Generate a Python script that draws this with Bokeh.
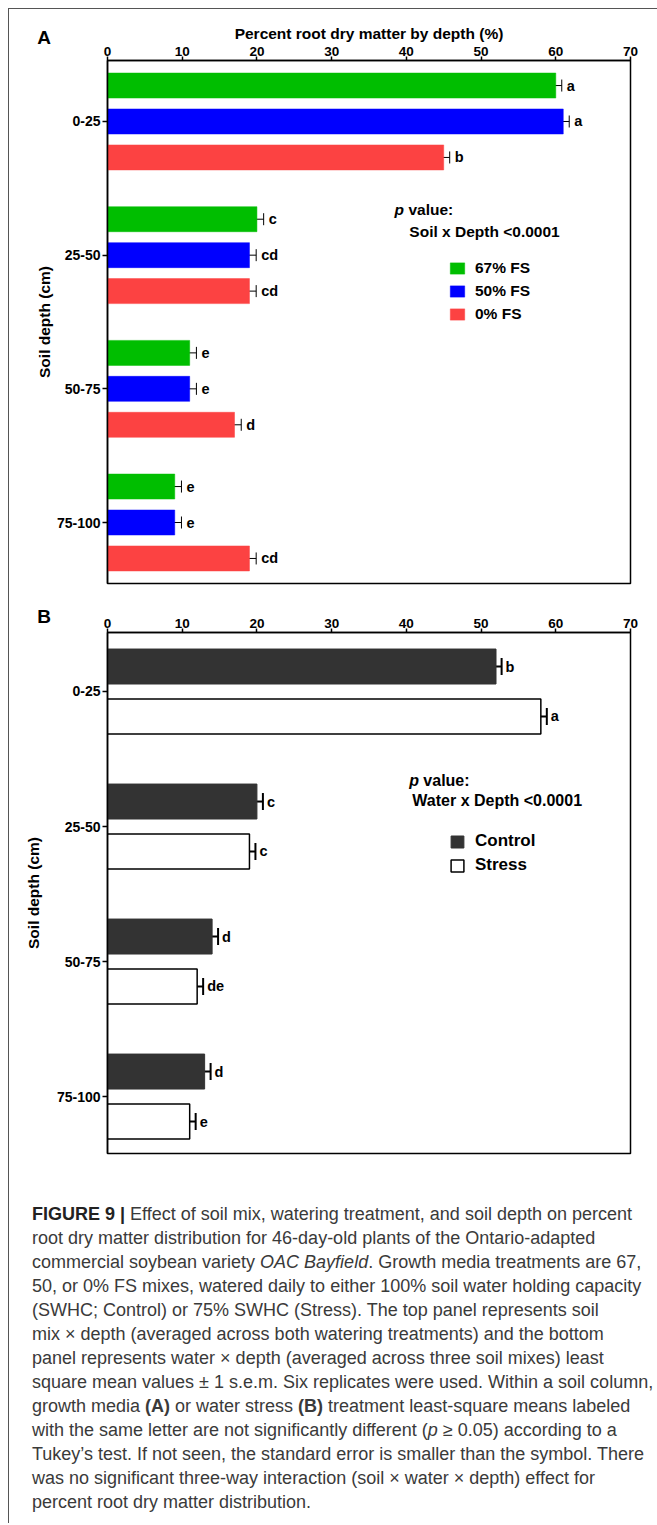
import numpy as np
from bokeh.plotting import figure
from bokeh.models import (Range1d, ColumnDataSource, Whisker, TeeHead, Label,
                          Legend, LegendItem, Div)
from bokeh.layouts import column
from bokeh.core.properties import value
from bokeh.embed import file_html
from bokeh.resources import INLINE

# ---------------- data ----------------
depths = ["0-25", "25-50", "50-75", "75-100"]
x_ticks = [0, 10, 20, 30, 40, 50, 60, 70]

# Panel A: soil mix x depth
fs67 = [60, 20, 11, 9]
fs67_se = [0.8, 0.9, 0.9, 0.9]
fs67_letters = ["a", "c", "e", "e"]
fs50 = [61, 19, 11, 9]
fs50_se = [0.8, 0.9, 0.9, 0.9]
fs50_letters = ["a", "cd", "e", "e"]
fs0 = [45, 19, 17, 19]
fs0_se = [0.8, 0.9, 0.9, 0.9]
fs0_letters = ["b", "cd", "d", "cd"]

# Panel B: water x depth
control = [52, 20, 14, 13]
control_se = [0.75, 0.8, 0.8, 0.8]
control_letters = ["b", "c", "d", "d"]
stress = [58, 19, 12, 11]
stress_se = [0.8, 0.8, 0.8, 0.8]
stress_letters = ["a", "c", "de", "e"]

FONT = "Liberation Sans"
W = 648


def make_panel(height, top, bottom, y_start, y_end, xlabel, ylab_standoff):
    p = figure(width=W, height=height, x_range=Range1d(0, 70),
               y_range=Range1d(y_start, y_end), x_axis_location="above",
               output_backend="svg", toolbar_location=None,
               min_border_left=98, min_border_right=W - 621,
               min_border_top=top, min_border_bottom=bottom)
    p.xgrid.visible = False
    p.ygrid.visible = False
    p.outline_line_color = "black"
    p.outline_line_width = 1.5
    p.outline_line_alpha = 1
    p.background_fill_color = "white"
    p.border_fill_color = "white"

    xa = p.xaxis[0]
    xa.ticker = x_ticks
    xa.axis_line_width = 1.5
    xa.major_tick_line_width = 1.5
    xa.major_tick_out = 4
    xa.major_tick_in = 0
    xa.minor_tick_out = 0
    xa.minor_tick_in = 0
    xa.major_label_standoff = 1
    xa.major_label_text_font = FONT
    xa.major_label_text_font_style = "bold"
    xa.major_label_text_font_size = "13.5px"
    xa.major_label_text_color = "black"
    if xlabel:
        xa.axis_label = xlabel
        xa.axis_label_text_font = FONT
        xa.axis_label_text_font_style = "bold"
        xa.axis_label_text_font_size = "15.5px"
        xa.axis_label_text_color = "black"
        xa.axis_label_standoff = 2

    ya = p.yaxis[0]
    ya.ticker = list(range(len(depths)))
    ya.major_label_overrides = {i: d for i, d in enumerate(depths)}
    ya.axis_line_width = 1.5
    ya.major_tick_line_width = 1.5
    ya.major_tick_out = 5
    ya.major_tick_in = 0
    ya.minor_tick_out = 0
    ya.minor_tick_in = 0
    ya.major_label_standoff = 2
    ya.major_label_text_font = FONT
    ya.major_label_text_font_style = "bold"
    ya.major_label_text_font_size = "14px"
    ya.major_label_text_color = "black"
    ya.axis_label = "Soil depth (cm)"
    ya.axis_label_text_font = FONT
    ya.axis_label_text_font_style = "bold"
    ya.axis_label_text_font_size = "15.5px"
    ya.axis_label_text_color = "black"
    ya.axis_label_standoff = ylab_standoff
    return p


def add_series(p, vals, se, letters, offset, bar_h, fill, line, line_w,
               cap, err_w, letter_size, letter_off):
    idx = np.arange(len(depths))
    v = np.array(vals, dtype=float)
    s = np.array(se, dtype=float)
    src = ColumnDataSource(dict(y=idx + offset, val=v, lo=v - s, hi=v + s,
                                lab=letters))
    r = p.hbar(y="y", left=0, right="val", height=bar_h, source=src,
               fill_color=fill, line_color=line, line_width=line_w)
    w = Whisker(source=src, base="y", lower="lo", upper="hi",
                dimension="width", line_color="black", line_width=err_w,
                upper_head=TeeHead(size=cap, line_color="black", line_width=err_w),
                lower_head=TeeHead(size=cap, line_color="black", line_width=err_w))
    p.add_layout(w)
    p.text(x="hi", y="y", text="lab", source=src, x_offset=letter_off,
           text_baseline="middle", text_align="left",
           text_font=value(FONT), text_font_style="bold",
           text_font_size=letter_size, text_color="black")
    return r


def txt(p, x, y, text, size, style="bold", x_offset=0):
    p.add_layout(Label(x=x, y=y, x_offset=x_offset, text=text, text_font=FONT,
                       text_font_style=style, text_font_size=size,
                       text_baseline="middle", text_color="black"))


def panel_tag(p, x, y, text):
    # drawn at overlay level so that it is not clipped to the plot frame
    p.text(x=[x], y=[y], text=[text], level="overlay", text_baseline="middle",
           text_align="left", text_font=value(FONT), text_font_style="bold",
           text_font_size="19px", text_color="black")


# ---------------- panel A ----------------
pA = make_panel(582, 51, 8, 3.4563, -0.4563,
                "Percent root dry matter by depth (%)", 1)
hA = 0.187
offA = 0.269
rG = add_series(pA, fs67, fs67_se, fs67_letters, -offA, hA, "#00be00", "#00be00", 0.5, 12, 1, "14.5px", 5)
rB = add_series(pA, fs50, fs50_se, fs50_letters, 0.0, hA, "#0000ff", "#0000ff", 0.5, 12, 1, "14.5px", 5)
rR = add_series(pA, fs0, fs0_se, fs0_letters, offA, hA, "#fc4242", "#fc4242", 0.5, 12, 1, "14.5px", 5)

panel_tag(pA, -9.39, -0.628, "A")
txt(pA, 38.4, 0.658, "p", "15.5px", "bold italic")
txt(pA, 38.4, 0.658, "value:", "15.5px", "bold", 14)
txt(pA, 40.4, 0.823, "Soil x Depth <0.0001", "15.5px")
legA = Legend(items=[LegendItem(label="67% FS", renderers=[rG]),
                     LegendItem(label="50% FS", renderers=[rB]),
                     LegendItem(label="0% FS", renderers=[rR])],
              location=(341, 260), orientation="vertical", padding=0, margin=0,
              spacing=5, glyph_width=18, glyph_height=14, label_standoff=9,
              label_height=14, border_line_alpha=0, background_fill_alpha=0,
              label_text_font=FONT, label_text_font_style="bold",
              label_text_font_size="15.5px", label_text_color="black")
pA.add_layout(legA)

# ---------------- panel B ----------------
pB = make_panel(574, 41, 12, 3.422, -0.437, None, 12)
hB = 0.259
offB = 0.185
rC = add_series(pB, control, control_se, control_letters, -offB, hB, "#333333", "#333333", 1, 17, 2, "14.5px", 4)
rS = add_series(pB, stress, stress_se, stress_letters, offB, hB, "white", "black", 1.5, 17, 2, "14.5px", 4)

panel_tag(pB, -9.39, -0.556, "B")
txt(pB, 40.4, 0.659, "p", "16px", "bold italic")
txt(pB, 40.4, 0.659, "value:", "16px", "bold", 14)
txt(pB, 40.8, 0.807, "Water x Depth <0.0001", "16px")
legB = Legend(items=[LegendItem(label="Control", renderers=[rC]),
                     LegendItem(label="Stress", renderers=[rS])],
              location=(342, 278), orientation="vertical", padding=0, margin=0,
              spacing=4, glyph_width=16, glyph_height=15, label_standoff=10,
              label_height=15, border_line_alpha=0, background_fill_alpha=0,
              label_text_font=FONT, label_text_font_style="bold",
              label_text_font_size="17px", label_text_color="black")
pB.add_layout(legB)

# ---------------- caption ----------------
caption = (
    '<div style="font-family:\'Liberation Sans\',Arial,sans-serif;font-size:18px;'
    'line-height:24px;color:#3a3a3a;padding:37px 0 0 23px;white-space:nowrap;">'
    '<b style="color:#222">FIGURE 9 |</b> Effect of soil mix, watering treatment, and soil depth on percent<br>'
    'root dry matter distribution for 46-day-old plants of the Ontario-adapted<br>'
    'commercial soybean variety <i>OAC Bayfield</i>. Growth media treatments are 67,<br>'
    '50, or 0% FS mixes, watered daily to either 100% soil water holding capacity<br>'
    '(SWHC; Control) or 75% SWHC (Stress). The top panel represents soil<br>'
    'mix &times; depth (averaged across both watering treatments) and the bottom<br>'
    'panel represents water &times; depth (averaged across three soil mixes) least<br>'
    'square mean values &plusmn; 1 s.e.m. Six replicates were used. Within a soil column,<br>'
    'growth media <b>(A)</b> or water stress <b>(B)</b> treatment least-square means labeled<br>'
    'with the same letter are not significantly different (<i>p</i> &ge; 0.05) according to a<br>'
    'Tukey&rsquo;s test. If not seen, the standard error is smaller than the symbol. There<br>'
    'was no significant three-way interaction (soil &times; water &times; depth) effect for<br>'
    'percent root dry matter distribution.'
    '</div>'
)
div = Div(text=caption, width=W, height=358, margin=0)

layout = column(pA, pB, div, spacing=0, margin=(8, 0, 0, 8),
                styles={"border-top": "1px solid #555", "border-left": "1px solid #555"})

open("out.html", "w").write(file_html(layout, INLINE))
